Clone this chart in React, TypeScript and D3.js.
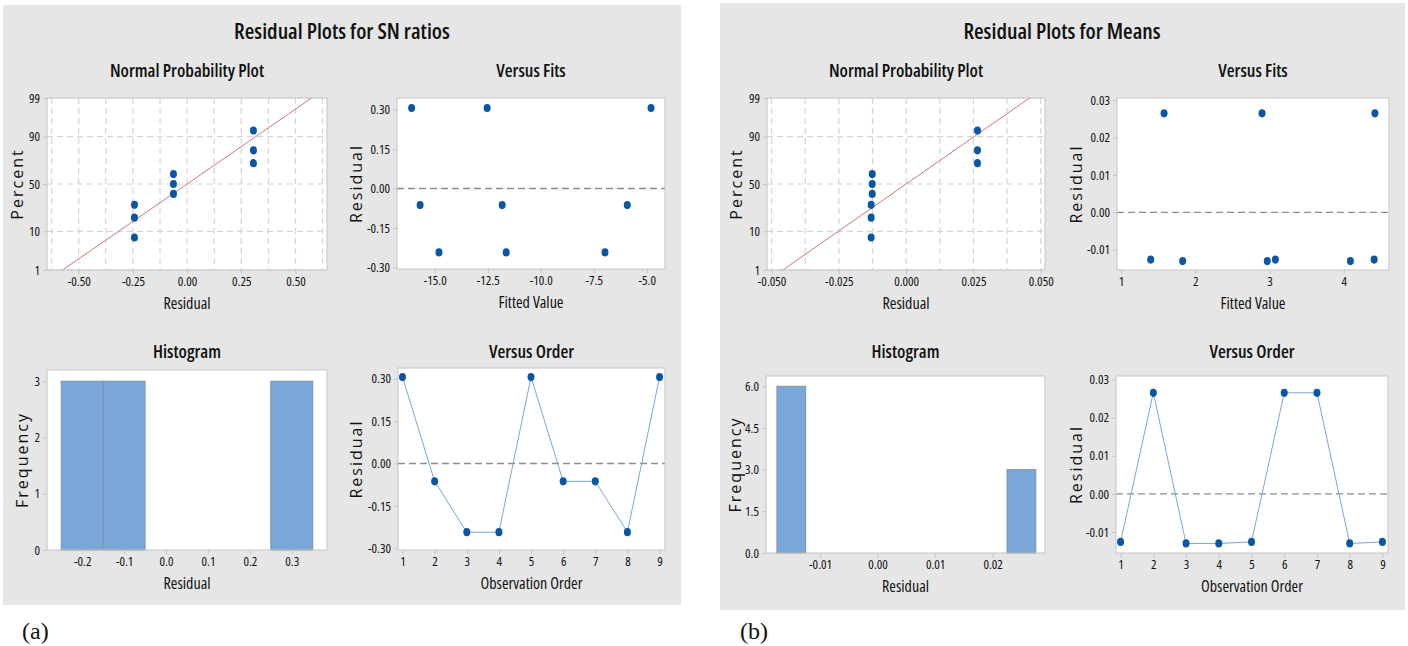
import React from 'react';
import * as d3 from 'd3';

// ---------- data: (a) SN ratios ----------
const obsOrder = [1, 2, 3, 4, 5, 6, 7, 8, 9];
const snResiduals = [0.306, -0.063, -0.243, -0.243, 0.306, -0.063, -0.063, -0.243, 0.306];
const snFitted = [-16.09, -15.69, -14.8, -11.63, -12.53, -11.82, -5.92, -6.97, -4.8];
const normalPercent = [7.4, 18.1, 28.7, 39.4, 50, 60.6, 71.3, 81.9, 92.6];
const snFitMean = 0;
const snFitSd = 0.247;
const snHistEdges = [-0.25, -0.15, -0.05, 0.05, 0.15, 0.25, 0.35];
const snHistCounts = [3, 3, 0, 0, 0, 3];

// ---------- data: (b) Means ----------
const meanResiduals = [-0.0126, 0.0265, -0.013, -0.013, -0.0126, 0.0265, 0.0265, -0.013, -0.0126];
const meanFitted = [1.4, 1.58, 1.83, 2.97, 3.08, 2.9, 4.42, 4.09, 4.41];
const meanFitMean = 0;
const meanFitSd = 0.0197;
const meanHistEdges = [-0.0175, -0.0125, -0.0075, -0.0025, 0.0025, 0.0075, 0.0125, 0.0175, 0.0225, 0.0275];
const meanHistCounts = [6, 0, 0, 0, 0, 0, 0, 0, 3];

// ---------- axis ticks ----------
const probTicks = [1, 10, 50, 90, 99];
const snNormTicks = [-0.5, -0.25, 0, 0.25, 0.5];
const snNormGrid = [-0.625, -0.5, -0.375, -0.25, -0.125, 0, 0.125, 0.25, 0.375, 0.5, 0.625];
const snResidTicks = [-0.3, -0.15, 0, 0.15, 0.3];
const snFitTicks = [-15, -12.5, -10, -7.5, -5];
const snHistTicks = [-0.2, -0.1, 0, 0.1, 0.2, 0.3];
const snFreqTicks = [0, 1, 2, 3];
const meanNormTicks = [-0.05, -0.025, 0, 0.025, 0.05];
const meanNormGrid = [-0.05, -0.0375, -0.025, -0.0125, 0, 0.0125, 0.025, 0.0375, 0.05];
const meanResidTicks = [-0.01, 0, 0.01, 0.02, 0.03];
const meanFitTicks = [1, 2, 3, 4];
const meanHistTicks = [-0.01, 0, 0.01, 0.02];
const meanFreqTicks = [0, 1.5, 3, 4.5, 6];

const FONT = "'Open Sans', 'DejaVu Sans', sans-serif";
const STRETCH = '80%';
const DOT = '#0b56a4';
const LINE = '#7da7d8';
const GRID = '#d6d6d6';
const FRAME = '#c4c4c4';
const TEXT = '#111';

// inverse normal CDF (Acklam)
function probit(p: number) {
  const a = [-39.69683028665376, 220.9460984245205, -275.9285104469687, 138.357751867269, -30.66479806614716, 2.506628277459239];
  const b = [-54.47609879822406, 161.5858368580409, -155.6989798598866, 66.80131188771972, -13.28068155288572];
  const c = [-0.007784894002430293, -0.3223964580411365, -2.400758277161838, -2.549732539343734, 4.374664141464968, 2.938163982698783];
  const d = [0.007784695709041462, 0.3224671290700398, 2.445134137142996, 3.754408661907416];
  const pl = 0.02425;
  if (p < pl) {
    const q = Math.sqrt(-2 * Math.log(p));
    return (((((c[0] * q + c[1]) * q + c[2]) * q + c[3]) * q + c[4]) * q + c[5]) / ((((d[0] * q + d[1]) * q + d[2]) * q + d[3]) * q + 1);
  }
  if (p > 1 - pl) {
    const q = Math.sqrt(-2 * Math.log(1 - p));
    return -(((((c[0] * q + c[1]) * q + c[2]) * q + c[3]) * q + c[4]) * q + c[5]) / ((((d[0] * q + d[1]) * q + d[2]) * q + d[3]) * q + 1);
  }
  const q = p - 0.5;
  const r = q * q;
  return (((((a[0] * r + a[1]) * r + a[2]) * r + a[3]) * r + a[4]) * r + a[5]) * q / (((((b[0] * r + b[1]) * r + b[2]) * r + b[3]) * r + b[4]) * r + 1);
}

type Box = [number, number, number, number];

function label(sel: any, size: number, weight = 500, stretch = STRETCH) {
  return sel.style('font-family', FONT).style('font-size', `${size}px`).style('font-weight', weight)
    .style('font-stretch', stretch).attr('fill', TEXT);
}

// white plot area + title + axis titles, returns the group
function plotFrame(svg: any, box: Box, title: string, titleY: number, xTitle: string, yTitle: string, yTitleX: number) {
  const [x0, y0, x1, y1] = box;
  const g = svg.append('g');
  g.append('rect').attr('x', x0).attr('y', y0).attr('width', x1 - x0).attr('height', y1 - y0).attr('fill', '#fff');
  label(g.append('text'), 18, 550)
    .attr('x', (x0 + x1) / 2).attr('y', titleY)
    .attr('text-anchor', 'middle')
    .text(title);
  label(g.append('text'), 16, 500)
    .attr('x', (x0 + x1) / 2).attr('y', y1 + 39)
    .attr('text-anchor', 'middle')
    .text(xTitle);
  label(g.append('text'), 16, 500, '100%')
    .attr('transform', `translate(${yTitleX},${(y0 + y1) / 2}) rotate(-90)`)
    .attr('text-anchor', 'middle')
    .attr('dy', '0.35em')
    .style('letter-spacing', '2px')
    .text(yTitle);
  return g;
}

function axes(g: any, box: Box, x: any, y: any, xTicks: number[], yTicks: number[], xFmt: (v: number) => string, yFmt: (v: number) => string, yPos?: (v: number) => number) {
  const [x0, , , y1] = box;
  const ax = g.append('g').attr('transform', `translate(0,${y1})`)
    .call(d3.axisBottom(x).tickValues(xTicks).tickFormat(xFmt as any).tickSizeOuter(0).tickSize(4).tickPadding(3));
  const ay = g.append('g').attr('transform', `translate(${x0},0)`)
    .call(d3.axisLeft(yPos ? d3.scaleIdentity() : y).tickValues(yPos ? yTicks.map(yPos) : yTicks)
      .tickFormat(((v: number, i: number) => yFmt(yTicks[i])) as any).tickSizeOuter(0).tickSize(4).tickPadding(3));
  [ax, ay].forEach((a) => {
    a.select('.domain').remove();
    a.selectAll('line').attr('stroke', FRAME);
    label(a.selectAll('text'), 13, 500);
  });
}

function border(g: any, box: Box) {
  const [x0, y0, x1, y1] = box;
  g.append('rect').attr('x', x0).attr('y', y0).attr('width', x1 - x0).attr('height', y1 - y0)
    .attr('fill', 'none').attr('stroke', FRAME).attr('stroke-width', 1);
}

function dots(g: any, pts: [number, number][]) {
  g.append('g').selectAll('ellipse').data(pts).join('ellipse')
    .attr('cx', (d: any) => d[0]).attr('cy', (d: any) => d[1])
    .attr('rx', 3.5).attr('ry', 4.1).attr('fill', DOT);
}

function normalPlot(svg: any, box: Box, resid: number[], xDomain: [number, number], ticks: number[], grid: number[], fmt: (v: number) => string, mean: number, sd: number, yTitleX: number) {
  const [x0, y0, x1, y1] = box;
  const x = d3.scaleLinear().domain(xDomain).range([x0, x1]);
  const y = d3.scaleLinear().domain([probit(0.01), probit(0.99)]).range([y1, y0]);
  const py = (p: number) => y(probit(p / 100));
  const g = plotFrame(svg, box, 'Normal Probability Plot', 77, 'Residual', 'Percent', yTitleX);
  const gr = g.append('g').attr('stroke', GRID).attr('stroke-dasharray', '6,4').attr('stroke-width', 1.2);
  gr.selectAll('line.v').data(grid).join('line').attr('class', 'v')
    .attr('x1', (d: number) => x(d)).attr('x2', (d: number) => x(d)).attr('y1', y0).attr('y2', y1);
  gr.selectAll('line.h').data(probTicks).join('line').attr('class', 'h')
    .attr('x1', x0).attr('x2', x1).attr('y1', (d: number) => py(d)).attr('y2', (d: number) => py(d));
  // fitted normal line, 1% .. 99%
  const zs = [probit(0.01), probit(0.99)];
  g.append('path')
    .attr('d', d3.line()(zs.map((z) => [x(mean + sd * z), y(z)]) as any))
    .attr('stroke', '#c97878').attr('stroke-width', 1).attr('fill', 'none');
  const sorted = d3.sort(resid);
  dots(g, sorted.map((r, i) => [x(r), py(normalPercent[i])]));
  axes(g, box, x, y, ticks, probTicks, fmt, (v) => String(v), py);
  border(g, box);
}

function fitsPlot(svg: any, box: Box, fitted: number[], resid: number[], xDomain: [number, number], yDomain: [number, number], xTicks: number[], yTicks: number[], xFmt: (v: number) => string, yFmt: (v: number) => string, yTitleX: number) {
  const [x0, y0, x1, y1] = box;
  const x = d3.scaleLinear().domain(xDomain).range([x0, x1]);
  const y = d3.scaleLinear().domain(yDomain).range([y1, y0]);
  const g = plotFrame(svg, box, 'Versus Fits', 77, 'Fitted Value', 'Residual', yTitleX);
  g.append('line').attr('x1', x0).attr('x2', x1).attr('y1', y(0)).attr('y2', y(0))
    .attr('stroke', '#8c8c8c').attr('stroke-width', 1.4).attr('stroke-dasharray', '7,4');
  dots(g, fitted.map((f, i) => [x(f), y(resid[i])]));
  axes(g, box, x, y, xTicks, yTicks, xFmt, yFmt);
  border(g, box);
}

function orderPlot(svg: any, box: Box, resid: number[], yDomain: [number, number], yTicks: number[], yFmt: (v: number) => string, yTitleX: number) {
  const [x0, y0, x1, y1] = box;
  const x = d3.scaleLinear().domain([0.86, 9.17]).range([x0, x1]);
  const y = d3.scaleLinear().domain(yDomain).range([y1, y0]);
  const g = plotFrame(svg, box, 'Versus Order', 358, 'Observation Order', 'Residual', yTitleX);
  g.append('line').attr('x1', x0).attr('x2', x1).attr('y1', y(0)).attr('y2', y(0))
    .attr('stroke', '#8c8c8c').attr('stroke-width', 1.4).attr('stroke-dasharray', '7,4');
  const pts = obsOrder.map((o, i) => [x(o), y(resid[i])] as [number, number]);
  g.append('path').attr('d', d3.line()(pts)).attr('fill', 'none').attr('stroke', LINE).attr('stroke-width', 1);
  dots(g, pts);
  axes(g, box, x, y, obsOrder, yTicks, (v) => String(v), yFmt);
  border(g, box);
}

function histPlot(svg: any, box: Box, edges: number[], counts: number[], xDomain: [number, number], yDomain: [number, number], xTicks: number[], yTicks: number[], xFmt: (v: number) => string, yFmt: (v: number) => string, yTitleX: number) {
  const [x0, y0, x1, y1] = box;
  const x = d3.scaleLinear().domain(xDomain).range([x0, x1]);
  const y = d3.scaleLinear().domain(yDomain).range([y1, y0]);
  const g = plotFrame(svg, box, 'Histogram', 358, 'Residual', 'Frequency', yTitleX);
  g.append('g').selectAll('rect').data(counts).join('rect')
    .attr('x', (d: number, i: number) => x(edges[i]))
    .attr('width', (d: number, i: number) => x(edges[i + 1]) - x(edges[i]))
    .attr('y', (d: number) => y(d))
    .attr('height', (d: number) => y(0) - y(d))
    .attr('fill', '#7ba6d8')
    .attr('stroke', (d: number) => (d > 0 ? '#7f93ab' : '#b9b9b9'))
    .attr('stroke-width', 1);
  axes(g, box, x, y, xTicks, yTicks, xFmt, yFmt);
  border(g, box);
}

const App = () => {
  const ref = React.useRef<SVGSVGElement>(null);

  React.useEffect(() => {
    document.body.style.margin = '0';
    const svg = d3.select(ref.current);
    svg.selectAll('*').remove();

    // grey panels
    svg.append('rect').attr('x', 3).attr('y', 5).attr('width', 678).attr('height', 600).attr('fill', '#e6e6e6');
    svg.append('rect').attr('x', 720).attr('y', 3).attr('width', 685).attr('height', 607).attr('fill', '#e6e6e6');

    label(svg.append('text'), 22, 550).attr('x', 342).attr('y', 39).attr('text-anchor', 'middle')
      .text('Residual Plots for SN ratios');
    label(svg.append('text'), 22, 550).attr('x', 1062).attr('y', 39).attr('text-anchor', 'middle')
      .text('Residual Plots for Means');

    const f2 = d3.format('.2f');
    const f1 = d3.format('.1f');
    const f3 = d3.format('.3f');
    const fi = d3.format('d');
    const minus = (f: (v: number) => string) => (v: number) => f(v).replace('−', '-');

    // (a)
    normalPlot(svg, [47, 98, 327, 270], snResiduals, [-0.6465, 0.6455], snNormTicks, snNormGrid, minus(f2), snFitMean, snFitSd, 17);
    fitsPlot(svg, [397, 98, 665, 269], snFitted, snResiduals, [-16.78, -4.14], [-0.306, 0.344], snFitTicks, snResidTicks, minus(f1), minus(f2), 356);
    histPlot(svg, [47, 370, 327, 550], snHistEdges, snHistCounts, [-0.284, 0.384], [0, 3.2], snHistTicks, snFreqTicks, minus(f1), fi, 22);
    orderPlot(svg, [398, 368, 665, 550], snResiduals, [-0.306, 0.338], snResidTicks, minus(f2), 356);

    // (b)
    normalPlot(svg, [767, 98, 1045, 270], meanResiduals, [-0.0517, 0.0516], meanNormTicks, meanNormGrid, minus(f3), meanFitMean, meanFitSd, 736);
    fitsPlot(svg, [1117, 98, 1389, 270], meanFitted, meanResiduals, [0.946, 4.61], [-0.0154, 0.0306], meanFitTicks, meanResidTicks, fi, minus(f2), 1076);
    histPlot(svg, [766, 376, 1045, 553], meanHistEdges, meanHistCounts, [-0.0194, 0.0291], [0, 6.37], meanHistTicks, meanFreqTicks, minus(f2), minus(f1), 735);
    orderPlot(svg, [1116, 376, 1388, 553], meanResiduals, [-0.0155, 0.0309], meanResidTicks, minus(f2), 1076);

    svg.append('text').attr('x', 22).attr('y', 639).style('font', "24px 'Liberation Serif', serif").attr('fill', TEXT).text('(a)');
    svg.append('text').attr('x', 740).attr('y', 639).style('font', "24px 'Liberation Serif', serif").attr('fill', TEXT).text('(b)');
  }, []);

  return <svg ref={ref} width={1408} height={646} style={{ display: 'block', background: '#fff' }} />;
};

export default App;
